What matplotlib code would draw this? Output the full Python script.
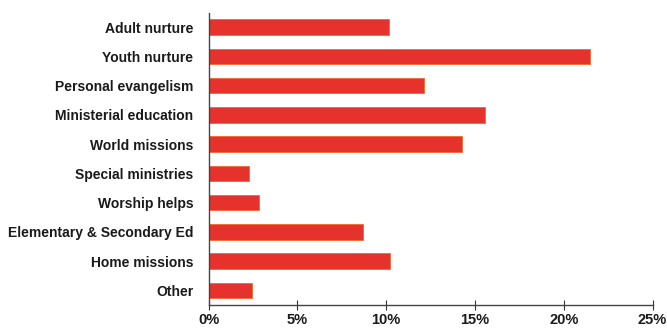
import matplotlib
matplotlib.use("Agg")
import matplotlib.pyplot as plt
from matplotlib.ticker import FuncFormatter

categories = ["Adult nurture", "Youth nurture", "Personal evangelism", "Ministerial education",
              "World missions", "Special ministries", "Worship helps",
              "Elementary & Secondary Ed", "Home missions", "Other"]
values = [10.15, 21.5, 12.15, 15.55, 14.3, 2.3, 2.85, 8.7, 10.2, 2.45]
xticks = [0, 5, 10, 15, 20, 25]

plt.rcParams['font.family'] = ['Liberation Sans', 'DejaVu Sans']

fig = plt.figure(figsize=(6.67, 3.29), dpi=100)
ax = fig.add_axes([0.3126, 0.0729, 0.6657, 0.8876])

y = list(range(len(categories)))
ax.barh(y, values, height=0.53, color="#e5322c", edgecolor="#f06a2a", linewidth=0.6)
ax.set_ylim(len(categories) - 0.5 + 0.0, -0.48)
ax.set_xlim(0, 25)
ax.set_yticks(y)
ax.set_yticklabels(categories, fontsize=10, fontweight='bold', color="#1a1a1a")
ax.set_xticks(xticks)
ax.xaxis.set_major_formatter(FuncFormatter(lambda v, p: f"{int(v)}%"))
for lbl in ax.get_xticklabels():
    lbl.set_fontsize(10.5)
    lbl.set_fontweight('bold')
    lbl.set_color("#1a1a1a")
ax.tick_params(axis='y', length=0, pad=11)
ax.tick_params(axis='x', direction='inout', length=7, width=0.8, color="#333333", pad=2)
for s in ['top', 'right']:
    ax.spines[s].set_visible(False)
ax.spines['left'].set_color("#444444")
ax.spines['bottom'].set_color("#444444")
ax.spines['left'].set_linewidth(1.0)
ax.spines['bottom'].set_linewidth(1.0)

fig.savefig("out.png", dpi=100)
